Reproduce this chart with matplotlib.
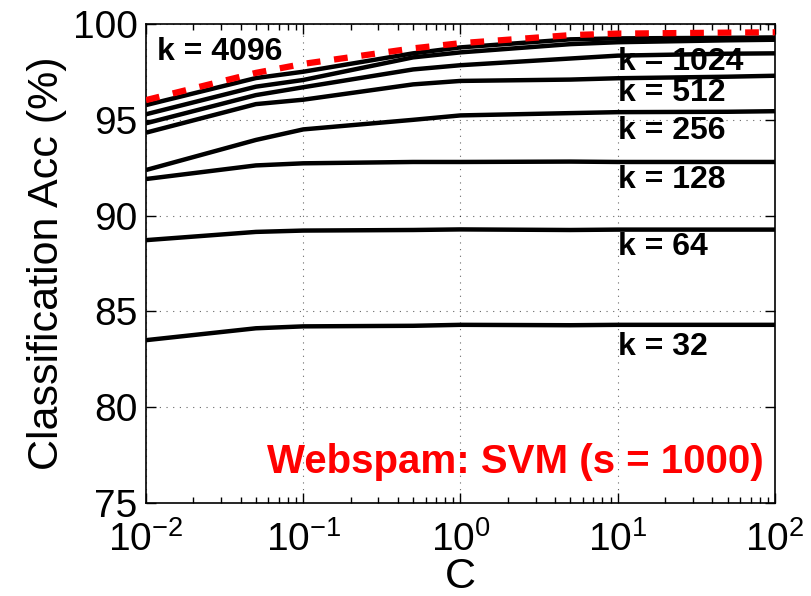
import numpy as np
import matplotlib
matplotlib.use('Agg')
import matplotlib.pyplot as plt
from matplotlib.ticker import LogLocator, FixedLocator, NullFormatter

plt.rcParams['font.family'] = ['Liberation Sans', 'DejaVu Sans']
plt.rcParams['mathtext.fontset'] = 'custom'
plt.rcParams['mathtext.rm'] = 'Liberation Sans'

# SVM regularization values
C_vals = [0.01, 0.05, 0.1, 0.5, 1, 5, 10, 50, 100]

# accuracy (%) per number of hashes k
k_list = [4096, 2048, 1024, 512, 256, 128, 64, 32]
acc_4096 = [95.77, 97.18, 97.51, 98.47, 98.78, 99.20, 99.25, 99.28, 99.30]
acc_2048 = [95.29, 96.73, 97.08, 98.26, 98.52, 98.95, 99.05, 99.15, 99.18]
acc_1024 = [94.82, 96.29, 96.70, 97.63, 97.85, 98.20, 98.35, 98.45, 98.47]
acc_512 = [94.33, 95.82, 96.05, 96.85, 97.03, 97.10, 97.17, 97.25, 97.30]
acc_256 = [92.38, 93.95, 94.50, 95.00, 95.23, 95.35, 95.40, 95.42, 95.45]
acc_128 = [91.91, 92.62, 92.73, 92.80, 92.80, 92.82, 92.80, 92.80, 92.80]
acc_64 = [88.72, 89.15, 89.22, 89.25, 89.28, 89.25, 89.27, 89.27, 89.27]
acc_32 = [83.50, 84.12, 84.22, 84.25, 84.30, 84.28, 84.30, 84.30, 84.30]
acc_orig = [96.03, 97.45, 97.92, 98.73, 99.00, 99.42, 99.50, 99.55, 99.57]

hashed = [acc_4096, acc_2048, acc_1024, acc_512, acc_256, acc_128, acc_64, acc_32]

# label text and where it sits (data coords)
lbl_text = ['k = 4096', 'k = 1024', 'k = 512', 'k = 256', 'k = 128', 'k = 64', 'k = 32']
lbl_x = [0.0118, 10, 10, 10, 10, 10, 10]
lbl_y = [98.54, 98.02, 96.40, 94.42, 91.86, 88.36, 83.14]

fig = plt.figure(figsize=(8.12, 5.96), dpi=100)
ax = fig.add_axes([0.1798, 0.156, 0.7746, 0.8037])

for acc in hashed:
    ax.plot(C_vals, acc, color='black', linewidth=3.2, solid_capstyle='butt', zorder=3)
ax.plot(C_vals, acc_orig, color='red', linewidth=4.5, linestyle=(0, (2.2, 2.2)),
        dash_capstyle='butt', zorder=4)

for t, x, y in zip(lbl_text, lbl_x, lbl_y):
    ax.text(x, y, t, fontsize=23, fontweight='bold', ha='left', va='center', zorder=5)

ax.text(0.982, 0.085, 'Webspam: SVM (s = 1000)', transform=ax.transAxes,
        fontsize=29, fontweight='bold', color='red', ha='right', va='center')

ax.set_xscale('log')
ax.set_xlim(1e-2, 1e2)
ax.set_ylim(75, 100)
ax.set_yticks([75, 80, 85, 90, 95, 100])
ax.xaxis.set_major_locator(FixedLocator([1e-2, 1e-1, 1e0, 1e1, 1e2]))
ax.xaxis.set_minor_locator(LogLocator(base=10, subs=np.arange(2, 10)))
ax.xaxis.set_minor_formatter(NullFormatter())
ax.set_xticklabels([r'$\mathregular{10^{-2}}$', r'$\mathregular{10^{-1}}$',
                    r'$\mathregular{10^{0}}$', r'$\mathregular{10^{1}}$',
                    r'$\mathregular{10^{2}}$'])

ax.tick_params(which='both', direction='in', top=True, right=True, width=1)
ax.tick_params(which='major', length=7, labelsize=28)
ax.tick_params(axis='x', which='major', pad=13)
ax.tick_params(axis='y', which='major', pad=6)
ax.tick_params(which='minor', length=4)
ax.grid(True, which='major', color='black', linestyle=(0, (1, 5)), linewidth=0.8, alpha=0.6)
for s in ax.spines.values():
    s.set_linewidth(1.2)

ax.set_xlabel('C', fontsize=31, labelpad=-1)
ax.set_ylabel('Classification Acc (%)', fontsize=31, labelpad=4)

fig.savefig('out.png', dpi=100)
